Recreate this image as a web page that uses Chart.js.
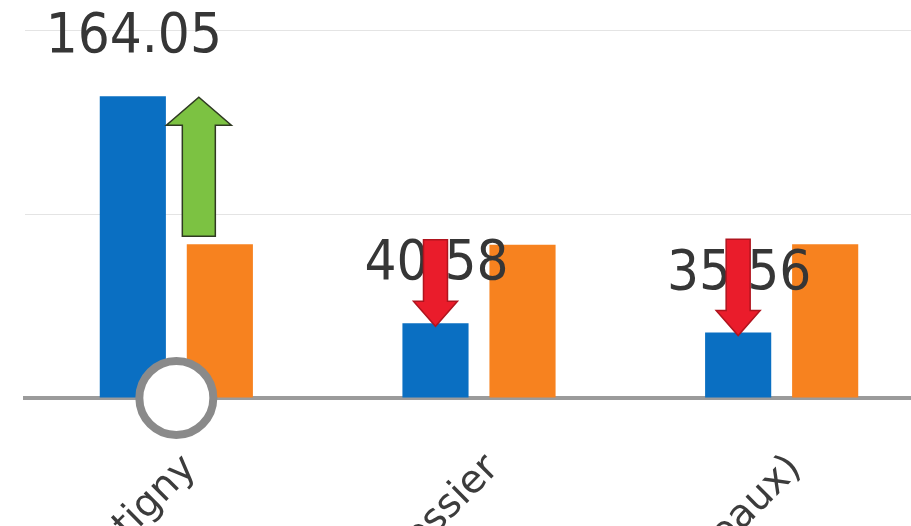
<!DOCTYPE html>
<html>
<head>
<meta charset="utf-8">
<script src="https://cdn.jsdelivr.net/npm/chart.js@4.4.1/dist/chart.umd.min.js"></script>
<style>
  html, body { margin: 0; padding: 0; background: #fff; }
  #frame { position: relative; width: 911px; height: 526px; overflow: hidden; }
  #holder { position: absolute; left: 0; top: 0; width: 940px; height: 720px; }
</style>
</head>
<body>
<div id="frame"><div id="holder"><canvas id="chart" width="940" height="720"></canvas></div></div>
<script>
// data
const categories = ['Montigny', 'Le Plessier', 'Roubaix (Meaux)'];
const actualValues = [164.05, 40.58, 35.56];
const targetValues = [83.5, 83.3, 83.6];
const markerValues = [0, null, null];
const yTicks = [0, 100, 200];

const BLUE = '#0a6fc2';
const ORANGE = '#f7821f';
const LABEL_FONT = '56px "DejaVu Sans Condensed", "DejaVu Sans", sans-serif';

// value labels above the blue bars
const valueLabels = {
    id: 'valueLabels',
    afterDatasetsDraw(chart) {
        const ctx = chart.ctx;
        const meta = chart.getDatasetMeta(1);
        ctx.save();
        ctx.font = LABEL_FONT;
        ctx.fillStyle = '#363636';
        ctx.textAlign = 'center';
        ctx.textBaseline = 'alphabetic';
        meta.data.forEach((bar, i) => {
            ctx.fillText(actualValues[i].toFixed(2), bar.x + 1, bar.y - 44);
        });
        ctx.restore();
    }
};

function drawArrow(ctx, x, yFrom, yTo, shaft, head, headLen, fill, stroke) {
    const dir = yTo < yFrom ? -1 : 1;
    const yHead = yTo - dir * headLen;
    ctx.beginPath();
    ctx.moveTo(x - shaft / 2, yFrom);
    ctx.lineTo(x - shaft / 2, yHead);
    ctx.lineTo(x - head / 2, yHead);
    ctx.lineTo(x, yTo);
    ctx.lineTo(x + head / 2, yHead);
    ctx.lineTo(x + shaft / 2, yHead);
    ctx.lineTo(x + shaft / 2, yFrom);
    ctx.closePath();
    ctx.fillStyle = fill;
    ctx.fill();
    ctx.lineWidth = 1.5;
    ctx.strokeStyle = stroke;
    ctx.stroke();
}

// up / down arrows from target level to actual level
const changeArrows = {
    id: 'changeArrows',
    afterDatasetsDraw(chart) {
        const ctx = chart.ctx;
        const y = chart.scales.y;
        const blue = chart.getDatasetMeta(1).data;
        ctx.save();
        actualValues.forEach((v, i) => {
            const yA = y.getPixelForValue(v);
            const yT = y.getPixelForValue(targetValues[i]);
            if (v > targetValues[i]) {
                drawArrow(ctx, blue[i].x + 66, yT - 8, yA + 1, 33, 65, 28, '#7cc242', '#2f3a22');
            } else {
                drawArrow(ctx, blue[i].x, yT - 5, yA + 3, 24, 44, 25, '#ea1c2b', '#b0141e');
            }
        });
        ctx.restore();
    }
};

new Chart(document.getElementById('chart'), {
    data: {
        labels: categories,
        datasets: [
            {
                type: 'line',
                data: markerValues,
                showLine: false,
                pointRadius: 37,
                pointHoverRadius: 37,
                pointBorderWidth: 8,
                pointBorderColor: '#8a8a8a',
                pointBackgroundColor: '#ffffff',
                clip: false,
                order: -1
            },
            {
                type: 'bar',
                data: actualValues,
                backgroundColor: BLUE,
                categoryPercentage: 0.575,
                barPercentage: 0.76
            },
            {
                type: 'bar',
                data: targetValues,
                backgroundColor: ORANGE,
                categoryPercentage: 0.575,
                barPercentage: 0.76
            }
        ]
    },
    options: {
        responsive: false,
        animation: false,
        layout: { autoPadding: false, padding: { left: 25, right: 7, top: 30, bottom: 0 } },
        plugins: { legend: { display: false }, tooltip: { enabled: false } },
        scales: {
            x: {
                grid: { display: false },
                border: { display: true, color: '#9b9b9b', width: 4 },
                ticks: {
                    color: '#3c3c3c',
                    font: { family: '"DejaVu Sans", sans-serif', size: 39 },
                    minRotation: 45,
                    maxRotation: 45,
                    padding: 40,
                    labelOffset: 14
                },
                afterFit(scale) {
                    scale.height = 720 - 398;
                    scale.paddingLeft = 0;
                    scale.paddingRight = 0;
                }
            },
            y: {
                min: yTicks[0],
                max: yTicks[yTicks.length - 1],
                afterBuildTicks(scale) { scale.ticks = yTicks.map(v => ({ value: v })); },
                grid: { color: '#e4e4e4', lineWidth: 1, drawTicks: false },
                border: { display: false },
                ticks: { display: false },
                afterFit(scale) { scale.width = 0; }
            }
        }
    },
    plugins: [valueLabels, changeArrows]
});
</script>
</body>
</html>
